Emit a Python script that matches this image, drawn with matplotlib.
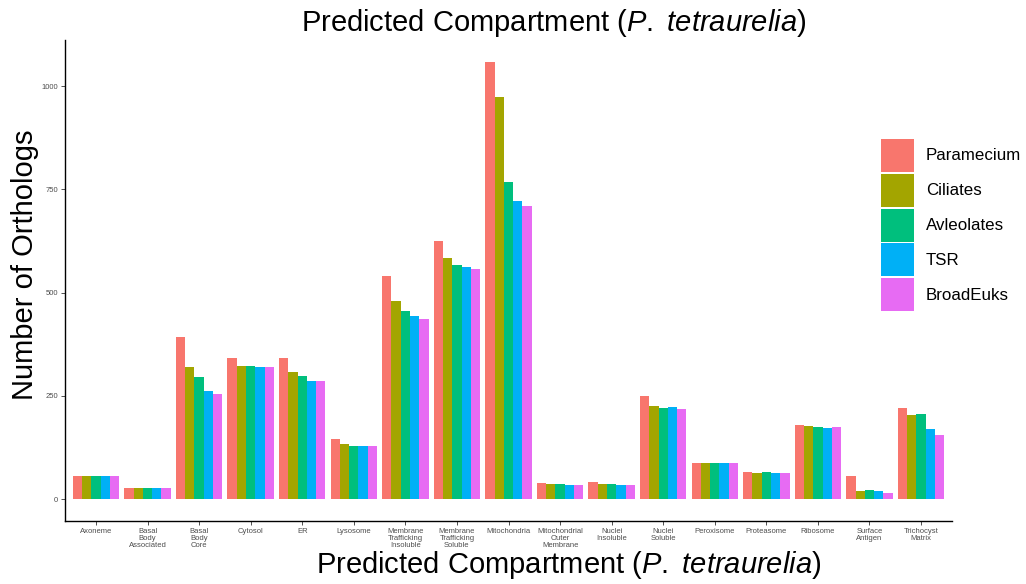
import numpy as np
import matplotlib
matplotlib.use("Agg")
import matplotlib.pyplot as plt

plt.rcParams['font.family'] = ['Liberation Sans', 'DejaVu Sans']
plt.rcParams['mathtext.fontset'] = 'custom'
plt.rcParams['mathtext.rm'] = 'Liberation Sans'
plt.rcParams['mathtext.it'] = 'Liberation Sans:italic'

categories = ["Axoneme", "Basal\nBody\nAssociated", "Basal\nBody\nCore", "Cytosol", "ER",
              "Lysosome", "Membrane\nTrafficking\nInsoluble", "Membrane\nTrafficking\nSoluble",
              "Mitochondria", "Mitochondrial\nOuter\nMembrane", "Nuclei\nInsoluble",
              "Nuclei\nSoluble", "Peroxisome", "Proteasome", "Ribosome",
              "Surface\nAntigen", "Trichocyst\nMatrix"]

groups = ["Paramecium", "Ciliates", "Avleolates", "TSR", "BroadEuks"]
colors = ["#F8766D", "#A3A500", "#00BF7D", "#00B0F6", "#E76BF3"]

paramecium = [57, 28, 393, 342, 342, 145, 541, 626, 1058, 39, 41, 250, 87, 65, 179, 55, 221]
ciliates   = [57, 28, 320, 322, 308, 133, 480, 583, 973, 36, 36, 226, 87, 63, 177, 19, 204]
avleolates = [57, 28, 296, 322, 298, 128, 456, 566, 769, 36, 36, 221, 87, 65, 175, 22, 206]
tsr        = [55, 28, 262, 320, 286, 128, 444, 563, 721, 34, 34, 223, 87, 63, 172, 19, 170]
broadeuks  = [55, 28, 255, 320, 286, 128, 437, 558, 709, 34, 34, 218, 87, 63, 175, 15, 155]

series = [paramecium, ciliates, avleolates, tsr, broadeuks]

fig = plt.figure(figsize=(10.26, 5.84), dpi=100)
ax = fig.add_axes([65/1026, 1 - 521/584, (952-65)/1026, (521-40)/584])

x = np.arange(1, len(categories) + 1)
w = 0.18
handles = []
for j, (vals, c) in enumerate(zip(series, colors)):
    b = ax.bar(x + (j - 2) * w, vals, width=w, color=c, linewidth=0, label=groups[j])
    handles.append(b)

ax.set_xlim(0.4, 17.6)
ax.set_ylim(-53, 1112)
ax.set_xticks(x)
ax.set_xticklabels(categories, fontsize=5.5, color="#4D4D4D", linespacing=1.05)
ax.set_yticks([0, 250, 500, 750, 1000])
ax.tick_params(axis="y", labelsize=5.5, labelcolor="#4D4D4D", length=3, width=0.6, color="#333333", pad=2)
ax.tick_params(axis="x", length=3, width=0.6, color="#333333", pad=2)
for s in ["top", "right"]:
    ax.spines[s].set_visible(False)
for s in ["left", "bottom"]:
    ax.spines[s].set_linewidth(1.0)

title = "Predicted Compartment ($\\it{P.\\ tetraurelia}$)"
fig.text(554/1026, 1 - 23/584, title, ha="center", va="center", fontsize=21)
fig.text(569/1026, 1 - 565/584, title, ha="center", va="center", fontsize=21)
fig.text(25/1026, 1 - 265/584, "Number of Orthologs", rotation=90,
         ha="center", va="center", fontsize=21)

leg = fig.legend(handles=handles, loc="upper left", bbox_to_anchor=(869/1026, 1 - 127/584),
                 frameon=False, fontsize=12.2, handlelength=1.95, handleheight=2.62,
                 labelspacing=0.11, handletextpad=0.7, borderpad=0.2)

plt.savefig("out.png", dpi=100)
